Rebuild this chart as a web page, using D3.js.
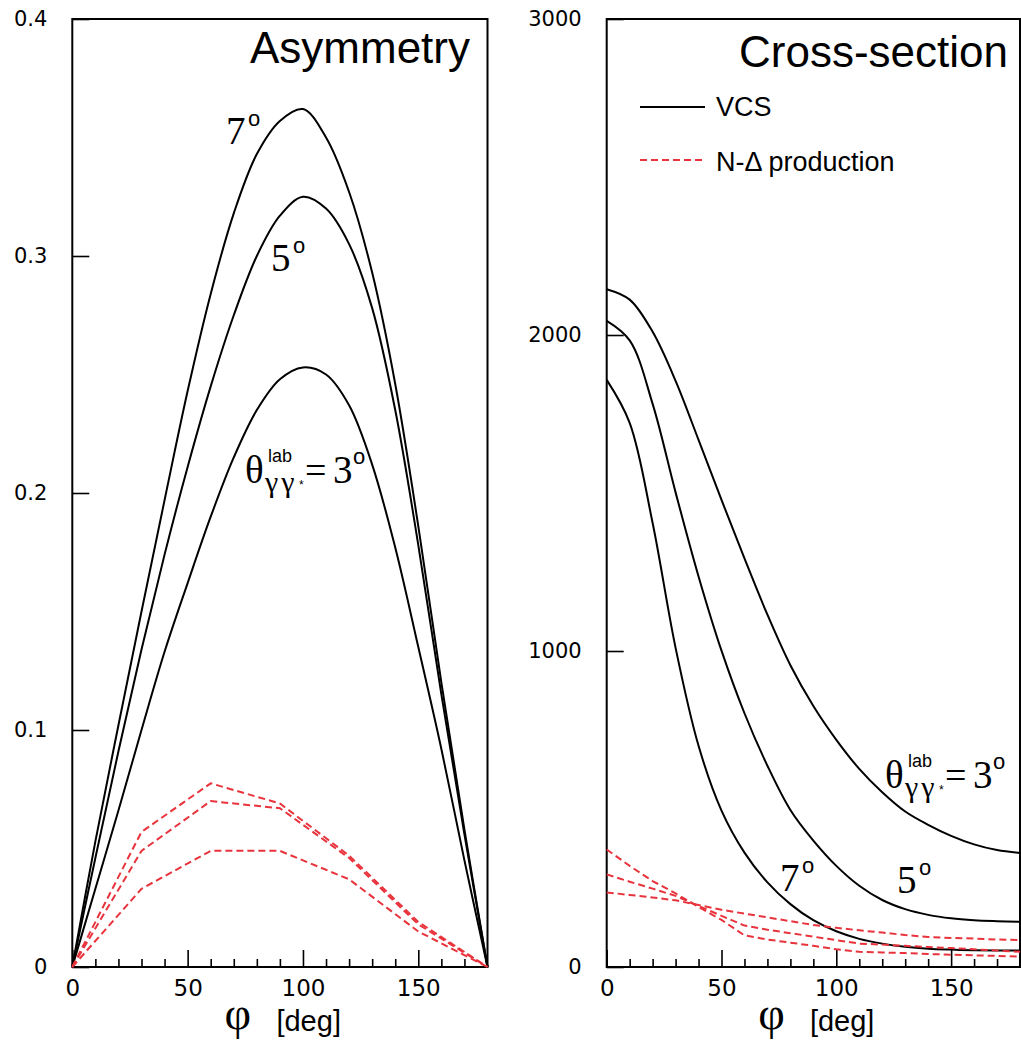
<!DOCTYPE html>
<html>
<head>
<meta charset="utf-8">
<script src="https://cdn.jsdelivr.net/npm/d3@7"></script>
<style>
  body { margin: 0; background: #fff; }
  svg text { fill: #000; }
</style>
</head>
<body>
<script>
// Values
const phi = [0, 10, 20, 30, 40, 50, 60, 70, 80, 90, 100, 110, 120, 130, 140, 150, 160, 170, 180];
const phiND = [0, 30, 60, 90, 120, 150, 180];

// Asymmetry, VCS
const asym3 = [0, 0.033, 0.066, 0.1, 0.133, 0.162, 0.19, 0.215, 0.235, 0.248, 0.253, 0.25, 0.237, 0.212, 0.177, 0.135, 0.092, 0.045, 0];
const asym5 = [0, 0.046, 0.091, 0.134, 0.174, 0.211, 0.245, 0.275, 0.3, 0.317, 0.325, 0.32, 0.305, 0.278, 0.235, 0.178, 0.115, 0.056, 0];
const asym7 = [0, 0.053, 0.102, 0.15, 0.197, 0.243, 0.284, 0.318, 0.343, 0.357, 0.362, 0.35, 0.327, 0.293, 0.246, 0.186, 0.12, 0.058, 0];
// Asymmetry, N-Delta production
const ndAsym3 = [0, 0.033, 0.049, 0.049, 0.037, 0.015, 0];
const ndAsym5 = [0, 0.049, 0.070, 0.067, 0.046, 0.018, 0];
const ndAsym7 = [0, 0.057, 0.0775, 0.069, 0.047, 0.019, 0];

// Cross-section, VCS
const xs3 = [2145, 2112, 2010, 1855, 1668, 1478, 1293, 1115, 955, 826, 719, 627, 553, 492, 450, 415, 388, 370, 361];
const xs5 = [2045, 1983, 1782, 1502, 1236, 1001, 803, 637, 497, 400, 320, 257, 212, 183, 165, 154, 148, 145, 143];
const xs7 = [1858, 1722, 1405, 1010, 700, 495, 362, 268, 199, 148, 113, 89, 74, 64, 58, 55, 53, 52, 52];
// Cross-section, N-Delta production
const ndXsA = [236, 228, 220, 211, 196, 181, 169, 157, 145, 133, 124, 116, 109, 101, 95, 92, 90, 87, 85];
const ndXsB = [293, 270, 248, 225, 193, 162, 131, 118, 107, 96, 85, 74, 71, 67, 63, 60, 56, 52, 48];
const ndXsC = [372, 320, 272, 233, 190, 149, 100, 87, 77, 67, 56, 48, 46, 44, 41, 39, 37, 35, 33];

// Ticks
const xMajor = [0, 50, 100, 150];
const xMinor = [10, 20, 30, 40, 60, 70, 80, 90, 110, 120, 130, 140, 160, 170];
const asymTicks = [0, 0.1, 0.2, 0.3, 0.4];
const asymTickLabels = ['0', '0.1', '0.2', '0.3', '0.4'];
const xsTicks = [0, 1000, 2000, 3000];
const xsTickLabels = ['0', '1000', '2000', '3000'];

const red = '#e8333c';
const serif = '"Liberation Serif", "Times New Roman", serif';
const sans = '"Liberation Sans", Arial, sans-serif';
const tickFont = '"DejaVu Sans", sans-serif';

const svg = d3.select('body').append('svg')
  .attr('width', 1021)
  .attr('height', 1043);

const frameTop = 19, frameBottom = 967;

// one panel: frame, ticks, axis title
function panel(x0, x1, yDomain, yTicks, yLabels) {
  const g = svg.append('g');
  const x = d3.scaleLinear().domain([0, 180]).range([x0, x1]);
  const y = d3.scaleLinear().domain(yDomain).range([frameBottom, frameTop]);

  g.append('g')
    .attr('transform', 'translate(0,' + frameBottom + ')')
    .call(d3.axisBottom(x).tickValues(xMinor).tickSize(-8).tickFormat(''))
    .call(a => a.select('.domain').remove());

  g.append('g')
    .attr('transform', 'translate(0,' + frameBottom + ')')
    .call(d3.axisBottom(x).tickValues(xMajor).tickSize(-17).tickPadding(13))
    .call(a => a.select('.domain').remove())
    .selectAll('text')
    .attr('font-family', tickFont)
    .attr('font-size', 23);

  g.append('g')
    .attr('transform', 'translate(' + x0 + ',0)')
    .call(d3.axisLeft(y).tickValues(yTicks).tickSize(-17).tickPadding(25)
      .tickFormat((d, i) => yLabels[i]))
    .call(a => a.select('.domain').remove())
    .selectAll('text')
    .attr('font-family', tickFont)
    .attr('font-size', 21);

  g.selectAll('.tick line').attr('stroke', '#000').attr('stroke-width', 1.6);

  g.append('rect')
    .attr('x', x0).attr('y', frameTop)
    .attr('width', x1 - x0).attr('height', frameBottom - frameTop)
    .attr('fill', 'none')
    .attr('stroke', '#000')
    .attr('stroke-width', 2);

  // axis title
  g.append('text')
    .attr('x', x(66)).attr('y', 1029)
    .attr('font-family', serif)
    .attr('font-size', 46)
    .text('φ');
  g.append('text')
    .attr('x', x(88.5)).attr('y', 1031)
    .attr('font-family', sans)
    .attr('font-size', 29)
    .text('[deg]');

  return { g, x, y };
}

function curve(p, xs, ys, opts) {
  const line = d3.line()
    .x((d, i) => p.x(xs[i]))
    .y(d => p.y(d))
    .curve(opts.smooth ? d3.curveCatmullRom.alpha(0.5) : d3.curveLinear);
  p.g.append('path')
    .datum(ys)
    .attr('d', line)
    .attr('fill', 'none')
    .attr('stroke', opts.color)
    .attr('stroke-width', opts.width)
    .attr('stroke-dasharray', opts.dash || null);
}

function degLabel(g, x, y, digit) {
  g.append('text').attr('x', x).attr('y', y)
    .attr('font-family', serif).attr('font-size', 39).text(digit);
  g.append('text').attr('x', x + 22).attr('y', y - 18)
    .attr('font-family', sans).attr('font-size', 22).text('o');
}

function thetaLabel(g, x, y) {
  const t = g.append('g').attr('transform', 'translate(' + x + ',' + y + ')');
  t.append('text').attr('x', 0).attr('y', 0)
    .attr('font-family', serif).attr('font-size', 39).text('θ');
  t.append('text').attr('x', 23).attr('y', -21)
    .attr('font-family', sans).attr('font-size', 18).text('lab');
  t.append('text').attr('x', 20).attr('y', 9)
    .attr('font-family', serif).attr('font-size', 30)
    .attr('letter-spacing', 3).text('γγ');
  t.append('text').attr('x', 54).attr('y', 6)
    .attr('font-family', sans).attr('font-size', 12).attr('fill', '#444').text('*');
  t.append('text').attr('x', 60).attr('y', 0)
    .attr('font-family', serif).attr('font-size', 38).text('=');
  t.append('text').attr('x', 88).attr('y', 0)
    .attr('font-family', serif).attr('font-size', 39).text('3');
  t.append('text').attr('x', 108).attr('y', -19)
    .attr('font-family', sans).attr('font-size', 22).text('o');
}

// Left: asymmetry
const left = panel(72.3, 487.5, [0, 0.4], asymTicks, asymTickLabels);
[asym3, asym5, asym7].forEach(s => curve(left, phi, s, { color: '#000', width: 2, smooth: true }));
[ndAsym3, ndAsym5, ndAsym7].forEach(s => curve(left, phiND, s, { color: red, width: 2, dash: '7,4' }));

left.g.append('text')
  .attr('x', 470).attr('y', 63)
  .attr('text-anchor', 'end')
  .attr('font-family', sans).attr('font-size', 44)
  .text('Asymmetry');
degLabel(left.g, 226, 144, '7');
degLabel(left.g, 271, 271, '5');
thetaLabel(left.g, 245, 483);

// Right: cross-section
const right = panel(606.7, 1020, [0, 3000], xsTicks, xsTickLabels);
[xs3, xs5, xs7].forEach(s => curve(right, phi, s, { color: '#000', width: 2, smooth: true }));
[ndXsA, ndXsB, ndXsC].forEach(s => curve(right, phi, s, { color: red, width: 2, dash: '7,4' }));

right.g.append('text')
  .attr('x', 1008).attr('y', 67)
  .attr('text-anchor', 'end')
  .attr('font-family', sans).attr('font-size', 44)
  .text('Cross-section');
degLabel(right.g, 780, 891, '7');
degLabel(right.g, 897, 893, '5');
thetaLabel(right.g, 885, 788);

// legend
const legend = right.g.append('g');
legend.append('line')
  .attr('x1', 640).attr('x2', 705).attr('y1', 107).attr('y2', 107)
  .attr('stroke', '#000').attr('stroke-width', 2);
legend.append('text')
  .attr('x', 716).attr('y', 116)
  .attr('font-family', sans).attr('font-size', 27)
  .text('VCS');
legend.append('line')
  .attr('x1', 640).attr('x2', 705).attr('y1', 160).attr('y2', 160)
  .attr('stroke', red).attr('stroke-width', 2).attr('stroke-dasharray', '7,4');
legend.append('text')
  .attr('x', 716).attr('y', 171)
  .attr('font-family', sans).attr('font-size', 27)
  .text('N-Δ production');
</script>
</body>
</html>
